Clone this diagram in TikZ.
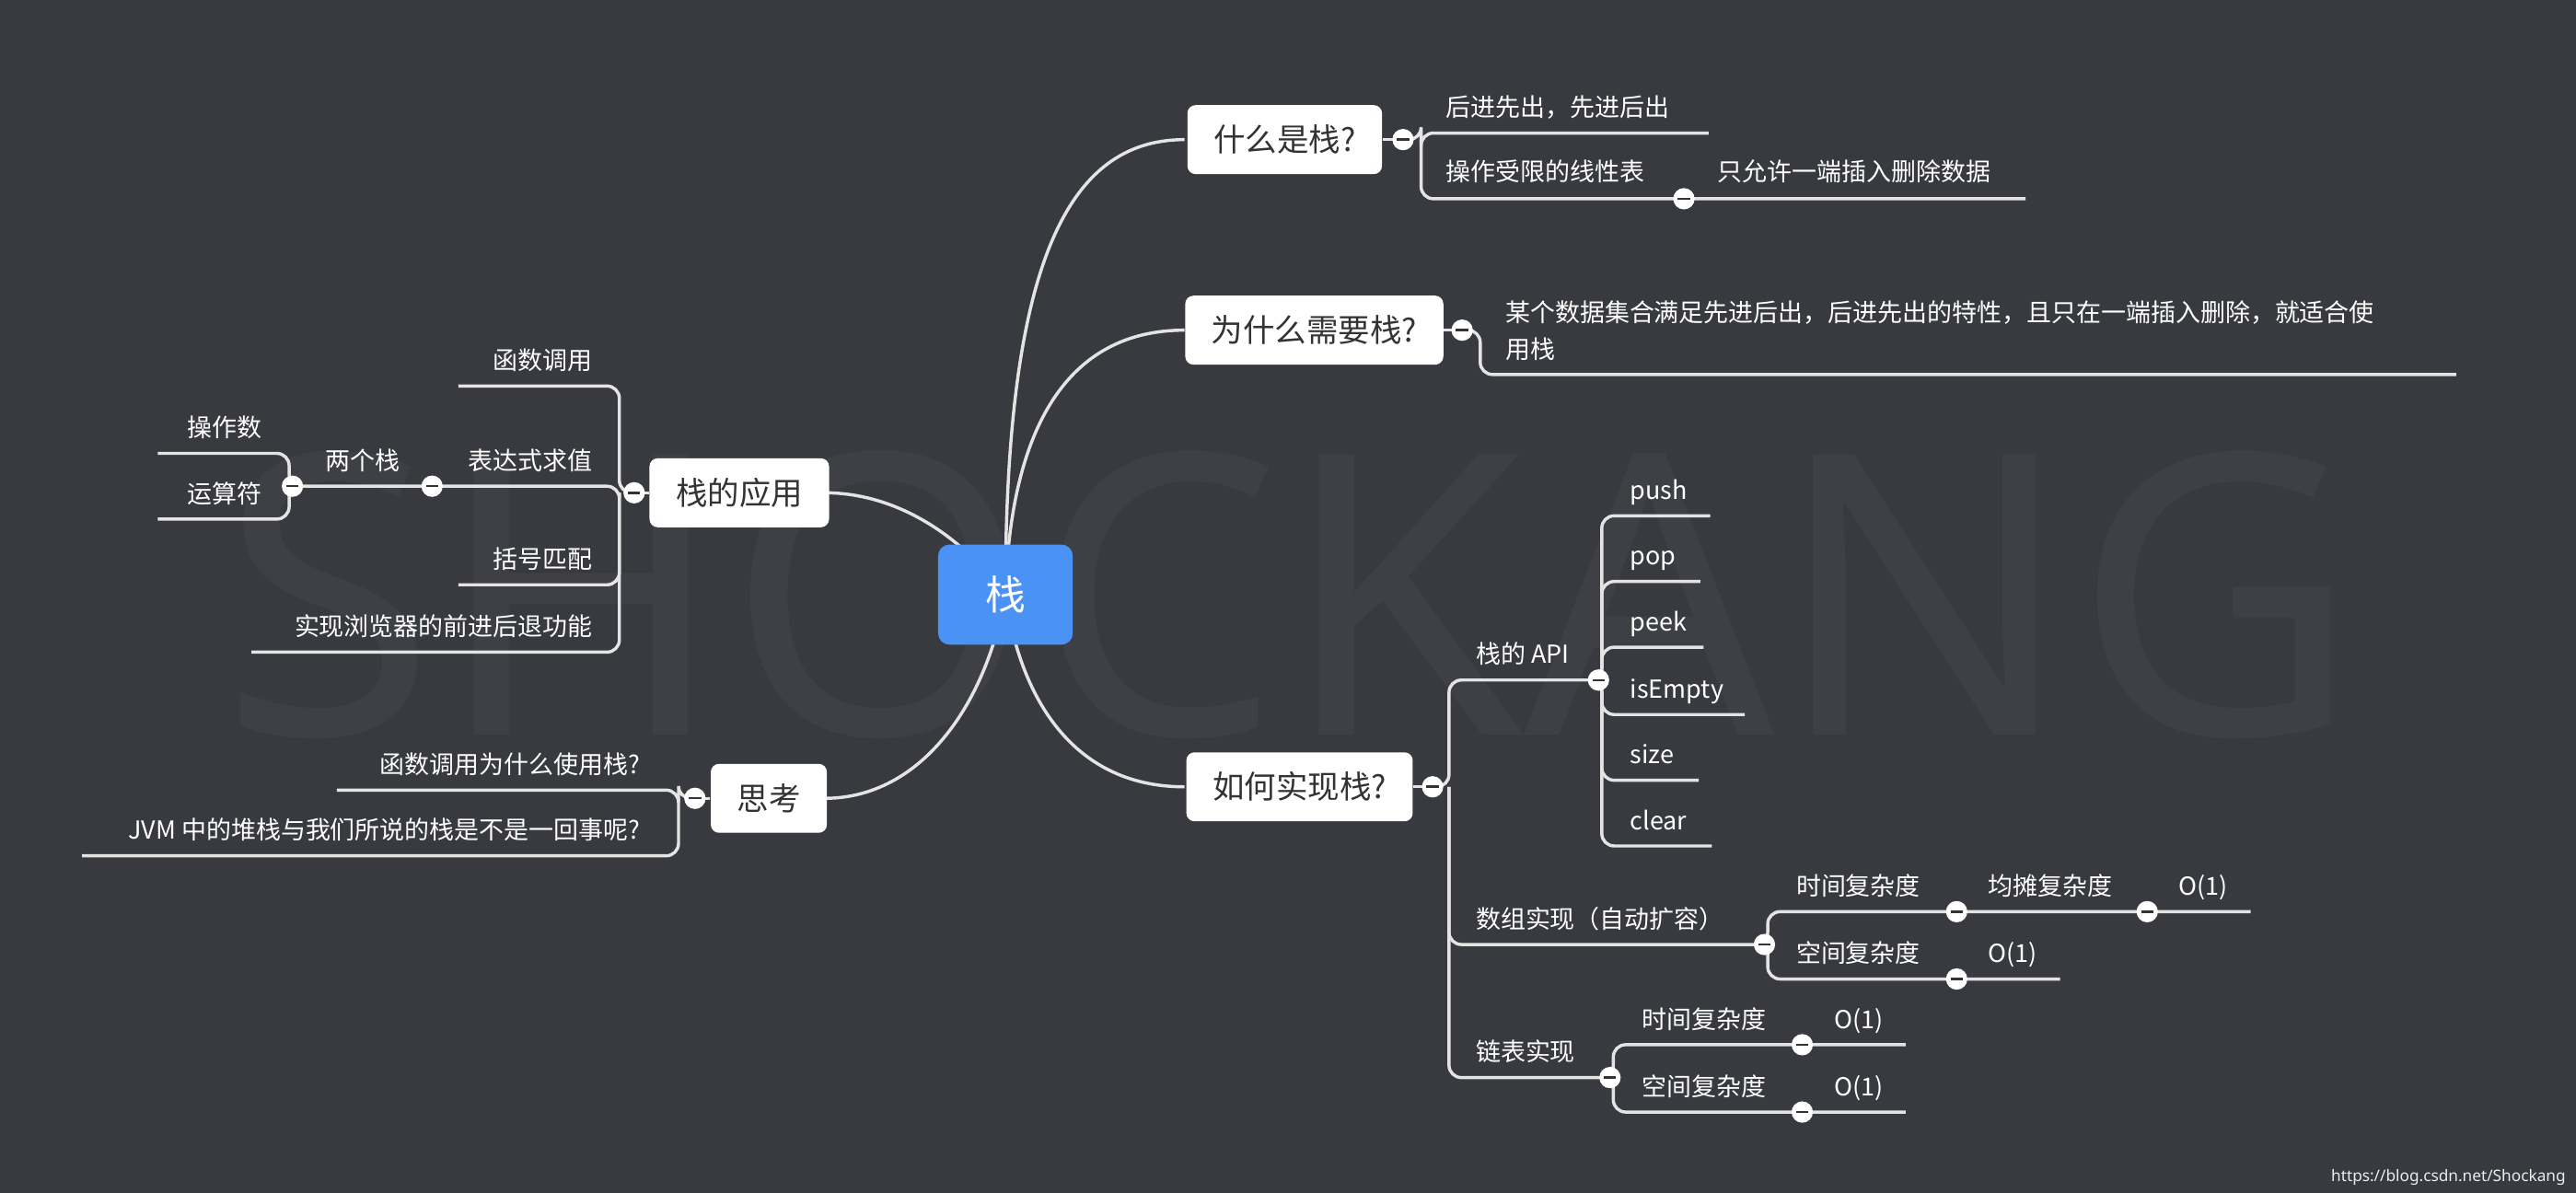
\documentclass[tikz,border=0pt]{standalone}
\usepackage{fontspec}
\setmainfont{Noto Sans CJK SC}
\setsansfont{Noto Sans}
\begin{document}
\begin{tikzpicture}[x=0.02cm,y=-0.02cm,
  ln/.style={draw=lc, line width=1.1pt},
  br/.style={ln, rounded corners=0.15cm},
  mainbox/.style={fill=white, rounded corners=0.1cm, text=dk, font=\fontsize{11}{12}\selectfont, minimum height=0.84cm, inner xsep=0.32cm},
  col/.style={circle, fill=white, minimum size=0.26cm, inner sep=0pt, path picture={\draw[dk, line width=0.8pt] ([xshift=-0.075cm]path picture bounding box.center) -- ([xshift=0.075cm]path picture bounding box.center);}},
  lt/.style={text=white, font=\fontsize{8.6}{10}\selectfont, inner sep=0pt}]
\definecolor{bg}{HTML}{383A3F}
\definecolor{lc}{HTML}{E4E4E4}
\definecolor{dk}{HTML}{333333}
\definecolor{bl}{HTML}{4A93F5}
\fill[bg] (0,0) rectangle (1568,726);
\useasboundingbox (0,0) rectangle (1568,726);
\node[text=white, opacity=0.03, font=\sffamily\fontsize{136}{136}\selectfont, inner sep=0pt] (wm) at (785,362) {SHOCKANG};
\node[text=lc!70, font=\sffamily\fontsize{5.5}{6}\selectfont, anchor=east, inner sep=0pt] (url) at (1562,717) {https://blog.csdn.net/Shockang};
% center
\coordinate (c) at (612,362);
\draw[ln] (c) .. controls (612,160) and (650,85) .. (721,85);
\draw[ln] (c) .. controls (615,260) and (650,201) .. (721,201);
\draw[ln] (c) .. controls (620,420) and (650,479) .. (721,479);
\draw[ln] (c) .. controls (580,320) and (540,300) .. (502,300);
\draw[ln] (c) .. controls (600,430) and (560,486) .. (502,486);
\node[fill=bl, rounded corners=0.14cm, minimum width=1.64cm, minimum height=1.22cm, text=white, font=\fontsize{14}{16}\selectfont] (root) at (612,362) {栈};
\node[mainbox] (n1) at (782,85) {什么是栈?};
\node[mainbox] (n2) at (800,201) {为什么需要栈?};
\node[mainbox] (n3) at (791,479) {如何实现栈?};
\node[mainbox] (n4) at (450,300) {栈的应用};
\node[mainbox] (n5) at (468,486) {思考};
% group A
\draw[ln] (n1.east) -- (854,85);
\draw[br] (854,85) -- (865,85) |- (1040,81);
\draw[br] (865,85) |- (1025,121) -- (1233,121);
\node[lt, anchor=base west] (a1) at (880,71) {后进先出，先进后出};
\node[lt, anchor=base west] (a2) at (880,110) {操作受限的线性表};
\node[lt, anchor=base west] (a3) at (1045,110) {只允许一端插入删除数据};
\node[col] at (854,85) {};
\node[col] at (1025,121) {};
% group B
\draw[ln] (n2.east) -- (890,201);
\draw[br] (890,201) -- (901,201) |- (1495,228);
\node[lt, anchor=base west] (b1) at (916,196) {某个数据集合满足先进后出，后进先出的特性，且只在一端插入删除，就适合使};
\node[lt, anchor=base west] (b2) at (916,218) {用栈};
\node[col] at (890,201) {};
% group C
\draw[ln] (n3.east) -- (872,479);
\draw[br] (872,479) -- (882,479) |- (973,414);
\draw[br] (882,479) |- (1074,575);
\draw[br] (882,479) |- (980,656);
\node[lt, anchor=base west] (c1) at (898,404) {栈的 API};
\node[lt, anchor=base west] (c2) at (898,565) {数组实现（自动扩容）};
\node[lt, anchor=base west] (c3) at (898,646) {链表实现};
\foreach \y/\e/\t in {314/1041/push,354/1035/pop,394/1037/peek,435/1062/isEmpty,475/1034/size,515/1042/clear}{
  \draw[br] (973,414) -- (975,414) |- (\e,\y);
  \node[lt, anchor=base west] at (992,\y-10) {\t};
}
\draw[br] (1074,575) -- (1076,575) |- (1370,555);
\draw[br] (1076,575) |- (1254,596);
\node[lt, anchor=base west] at (1093,545) {时间复杂度};
\node[lt, anchor=base west] at (1210,545) {均摊复杂度};
\node[lt, anchor=base west] at (1326,545) {O(1)};
\node[lt, anchor=base west] at (1093,586) {空间复杂度};
\node[lt, anchor=base west] at (1210,586) {O(1)};
\draw[br] (980,656) -- (982,656) |- (1160,636);
\draw[br] (982,656) |- (1160,677);
\node[lt, anchor=base west] at (999,626) {时间复杂度};
\node[lt, anchor=base west] at (1116,626) {O(1)};
\node[lt, anchor=base west] at (999,667) {空间复杂度};
\node[lt, anchor=base west] at (1116,667) {O(1)};
\foreach \p in {(872,479),(973,414),(1074,575),(1191,555),(1307,555),(1191,596),(980,656),(1097,636),(1097,677)} \node[col] at \p {};
% group D
\draw[ln] (n4.west) -- (386,300);
\draw[br] (386,300) -- (377,300) |- (279,235);
\draw[br] (377,300) |- (178,296);
\draw[br] (377,300) |- (279,356);
\draw[br] (377,300) |- (153,397);
\draw[br] (178,296) -- (176,296) |- (96,276);
\draw[br] (176,296) |- (96,316);
\node[lt, anchor=base east] at (361,225) {函数调用};
\node[lt, anchor=base east] at (361,286) {表达式求值};
\node[lt, anchor=base east] at (244,286) {两个栈};
\node[lt, anchor=base east] at (160,266) {操作数};
\node[lt, anchor=base east] at (160,306) {运算符};
\node[lt, anchor=base east] at (361,346) {括号匹配};
\node[lt, anchor=base east] at (361,387) {实现浏览器的前进后退功能};
\foreach \p in {(386,300),(263,296),(178,296)} \node[col] at \p {};
% group E
\draw[ln] (n5.west) -- (423,486);
\draw[br] (423,486) -- (413,486) |- (205,481);
\draw[br] (413,486) |- (50,521);
\node[lt, anchor=base east] at (390,471) {函数调用为什么使用栈?};
\node[lt, anchor=base east] at (390,511) {JVM 中的堆栈与我们所说的栈是不是一回事呢?};
\node[col] at (423,486) {};
\end{tikzpicture}
\end{document}
